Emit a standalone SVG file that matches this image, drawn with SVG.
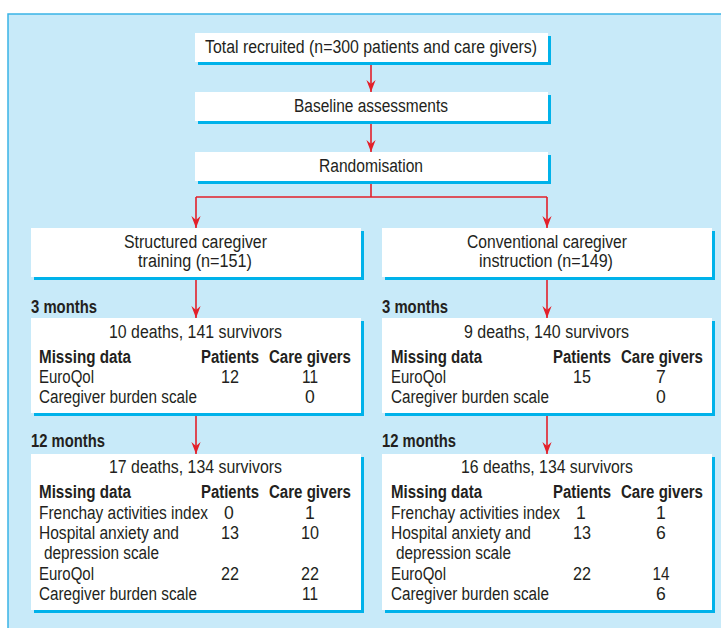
<svg xmlns="http://www.w3.org/2000/svg" width="721" height="628" viewBox="0 0 721 628">
<defs>
<style>
.panel{fill:#c8eaf9;stroke:#3ab4e6;stroke-width:1.5}
.box{fill:#ffffff}
.sh{fill:#00b2ea}
text{font-family:"Liberation Sans",Arial,sans-serif;font-size:17.6px;fill:#231f20}
.b{font-weight:bold}
.c{text-anchor:middle}
.con{fill:none;stroke:#e3202a;stroke-width:1.6}
</style>
<marker id="ah" viewBox="-12 -5 12 10" markerWidth="12" markerHeight="10" refX="0" refY="0" orient="auto" markerUnits="userSpaceOnUse">
<path d="M0,0 L-12,-4.6 L-8,0 L-12,4.6 Z" fill="#e3202a"/>
</marker>
</defs>
<rect class="panel" x="8" y="14" width="722" height="622"/>

<g id="connectors">
<path class="con" d="M371,62 V92" marker-end="url(#ah)"/>
<path class="con" d="M371,121 V152" marker-end="url(#ah)"/>
<path class="con" d="M371,181 V197"/>
<path class="con" d="M196,197 H547"/>
<path class="con" d="M196,197 V228" marker-end="url(#ah)"/>
<path class="con" d="M547,197 V228" marker-end="url(#ah)"/>
<path class="con" d="M196,277 V318" marker-end="url(#ah)"/>
<path class="con" d="M547,277 V318" marker-end="url(#ah)"/>
<path class="con" d="M196,413 V454" marker-end="url(#ah)"/>
<path class="con" d="M547,413 V454" marker-end="url(#ah)"/>
</g>

<g id="recruited">
<rect class="sh" x="198" y="36" width="353" height="29"/>
<rect class="box" x="195" y="33" width="353" height="29"/>
<text x="205" y="53" textLength="332" lengthAdjust="spacingAndGlyphs">Total recruited (n=300 patients and care givers)</text>
</g>

<g id="baseline">
<rect class="sh" x="198" y="95" width="353" height="29"/>
<rect class="box" x="195" y="92" width="353" height="29"/>
<text x="294" y="112" textLength="154" lengthAdjust="spacingAndGlyphs">Baseline assessments</text>
</g>

<g id="randomisation">
<rect class="sh" x="198" y="155" width="353" height="29"/>
<rect class="box" x="195" y="152" width="353" height="29"/>
<text x="319" y="172" textLength="104" lengthAdjust="spacingAndGlyphs">Randomisation</text>
</g>

<g id="structured">
<rect class="sh" x="34" y="231" width="330" height="49"/>
<rect class="box" x="31" y="228" width="330" height="49"/>
<text x="124" y="248" textLength="143" lengthAdjust="spacingAndGlyphs">Structured caregiver</text>
<text x="138" y="267" textLength="114" lengthAdjust="spacingAndGlyphs">training (n=151)</text>
</g>

<g id="conventional">
<rect class="sh" x="385" y="231" width="330" height="49"/>
<rect class="box" x="382" y="228" width="330" height="49"/>
<text x="467" y="248" textLength="160" lengthAdjust="spacingAndGlyphs">Conventional caregiver</text>
<text x="479" y="267" textLength="134" lengthAdjust="spacingAndGlyphs">instruction (n=149)</text>
</g>

<g id="left3">
<text class="b" x="31" y="313" textLength="66" lengthAdjust="spacingAndGlyphs">3 months</text>
<rect class="sh" x="34" y="321" width="330" height="95"/>
<rect class="box" x="31" y="318" width="330" height="95"/>
<text x="109" y="338" textLength="173" lengthAdjust="spacingAndGlyphs">10 deaths, 141 survivors</text>
<text class="b" x="39" y="363" textLength="92" lengthAdjust="spacingAndGlyphs">Missing data</text>
<text class="b" x="201" y="363" textLength="58" lengthAdjust="spacingAndGlyphs">Patients</text>
<text class="b" x="269" y="363" textLength="82" lengthAdjust="spacingAndGlyphs">Care givers</text>
<text x="39" y="383" textLength="55" lengthAdjust="spacingAndGlyphs">EuroQol</text>
<text class="c" x="230" y="383" textLength="18" lengthAdjust="spacingAndGlyphs">12</text>
<text class="c" x="310" y="383" textLength="16" lengthAdjust="spacingAndGlyphs">11</text>
<text x="39" y="403" textLength="158" lengthAdjust="spacingAndGlyphs">Caregiver burden scale</text>
<text class="c" x="310" y="403">0</text>
</g>

<g id="right3">
<text class="b" x="382" y="313" textLength="66" lengthAdjust="spacingAndGlyphs">3 months</text>
<rect class="sh" x="385" y="321" width="330" height="95"/>
<rect class="box" x="382" y="318" width="330" height="95"/>
<text x="464" y="338" textLength="165" lengthAdjust="spacingAndGlyphs">9 deaths, 140 survivors</text>
<text class="b" x="391" y="363" textLength="91" lengthAdjust="spacingAndGlyphs">Missing data</text>
<text class="b" x="553" y="363" textLength="58" lengthAdjust="spacingAndGlyphs">Patients</text>
<text class="b" x="621" y="363" textLength="82" lengthAdjust="spacingAndGlyphs">Care givers</text>
<text x="391" y="383" textLength="55" lengthAdjust="spacingAndGlyphs">EuroQol</text>
<text class="c" x="582" y="383" textLength="18" lengthAdjust="spacingAndGlyphs">15</text>
<text class="c" x="661" y="383">7</text>
<text x="391" y="403" textLength="158" lengthAdjust="spacingAndGlyphs">Caregiver burden scale</text>
<text class="c" x="661" y="403">0</text>
</g>

<g id="left12">
<text class="b" x="31" y="447" textLength="74" lengthAdjust="spacingAndGlyphs">12 months</text>
<rect class="sh" x="34" y="457" width="330" height="156"/>
<rect class="box" x="31" y="454" width="330" height="156"/>
<text x="109" y="473" textLength="173" lengthAdjust="spacingAndGlyphs">17 deaths, 134 survivors</text>
<text class="b" x="39" y="498" textLength="92" lengthAdjust="spacingAndGlyphs">Missing data</text>
<text class="b" x="201" y="498" textLength="58" lengthAdjust="spacingAndGlyphs">Patients</text>
<text class="b" x="269" y="498" textLength="82" lengthAdjust="spacingAndGlyphs">Care givers</text>
<text transform="translate(39,519) scale(0.877,1)">Frenchay activities index</text>
<text class="c" x="229" y="519">0</text>
<text class="c" x="310" y="519">1</text>
<text x="39" y="539" textLength="140" lengthAdjust="spacingAndGlyphs">Hospital anxiety and</text>
<text class="c" x="230" y="539" textLength="18" lengthAdjust="spacingAndGlyphs">13</text>
<text class="c" x="310" y="539" textLength="18" lengthAdjust="spacingAndGlyphs">10</text>
<text x="44" y="559" textLength="115" lengthAdjust="spacingAndGlyphs">depression scale</text>
<text x="39" y="580" textLength="55" lengthAdjust="spacingAndGlyphs">EuroQol</text>
<text class="c" x="230" y="580" textLength="18" lengthAdjust="spacingAndGlyphs">22</text>
<text class="c" x="310" y="580" textLength="18" lengthAdjust="spacingAndGlyphs">22</text>
<text x="39" y="600" textLength="158" lengthAdjust="spacingAndGlyphs">Caregiver burden scale</text>
<text class="c" x="310" y="600" textLength="16" lengthAdjust="spacingAndGlyphs">11</text>
</g>

<g id="right12">
<text class="b" x="382" y="447" textLength="74" lengthAdjust="spacingAndGlyphs">12 months</text>
<rect class="sh" x="385" y="457" width="330" height="156"/>
<rect class="box" x="382" y="454" width="330" height="156"/>
<text x="461" y="473" textLength="172" lengthAdjust="spacingAndGlyphs">16 deaths, 134 survivors</text>
<text class="b" x="391" y="498" textLength="91" lengthAdjust="spacingAndGlyphs">Missing data</text>
<text class="b" x="553" y="498" textLength="58" lengthAdjust="spacingAndGlyphs">Patients</text>
<text class="b" x="621" y="498" textLength="82" lengthAdjust="spacingAndGlyphs">Care givers</text>
<text transform="translate(391,519) scale(0.877,1)">Frenchay activities index</text>
<text class="c" x="581" y="519">1</text>
<text class="c" x="661" y="519">1</text>
<text x="391" y="539" textLength="140" lengthAdjust="spacingAndGlyphs">Hospital anxiety and</text>
<text class="c" x="582" y="539" textLength="18" lengthAdjust="spacingAndGlyphs">13</text>
<text class="c" x="661" y="539">6</text>
<text x="396" y="559" textLength="115" lengthAdjust="spacingAndGlyphs">depression scale</text>
<text x="391" y="580" textLength="55" lengthAdjust="spacingAndGlyphs">EuroQol</text>
<text class="c" x="582" y="580" textLength="18" lengthAdjust="spacingAndGlyphs">22</text>
<text class="c" x="661" y="580" textLength="17" lengthAdjust="spacingAndGlyphs">14</text>
<text x="391" y="600" textLength="158" lengthAdjust="spacingAndGlyphs">Caregiver burden scale</text>
<text class="c" x="661" y="600">6</text>
</g>
</svg>
